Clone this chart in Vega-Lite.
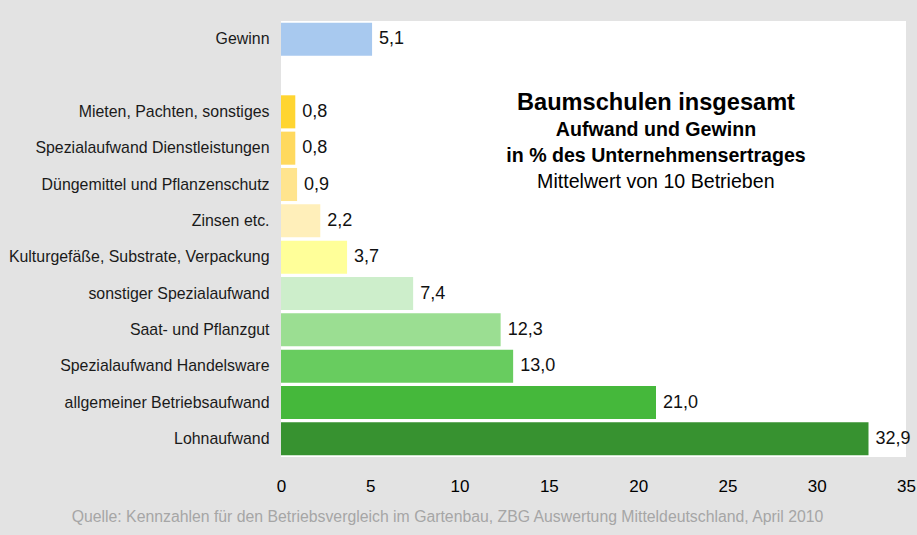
{
  "$schema": "https://vega.github.io/schema/vega-lite/v6.json",
  "width": 625,
  "height": 436,
  "autosize": {"type": "none"},
  "padding": {"left": 281, "top": 21, "right": 11, "bottom": 78},
  "background": "#e3e3e3",
  "title": {
    "text": "Baumschulen insgesamt",
    "subtitle": ["Aufwand und Gewinn", "in % des Unternehmensertrages"],
    "orient": "top",
    "anchor": "middle",
    "frame": "group",
    "dx": 62.5,
    "offset": -145,
    "font": "Liberation Sans",
    "fontSize": 23.6,
    "fontWeight": "bold",
    "color": "#000000",
    "subtitleFont": "Liberation Sans",
    "subtitleFontSize": 19.6,
    "subtitleFontWeight": "bold",
    "subtitleColor": "#000000",
    "subtitleLineHeight": 26,
    "subtitlePadding": 7
  },
  "datasets": {
    "werte": [
      {"Kategorie": "Gewinn", "Wert": 5.1},
      {"Kategorie": "Mieten, Pachten, sonstiges", "Wert": 0.8},
      {"Kategorie": "Spezialaufwand Dienstleistungen", "Wert": 0.8},
      {"Kategorie": "Düngemittel und Pflanzenschutz", "Wert": 0.9},
      {"Kategorie": "Zinsen etc.", "Wert": 2.2},
      {"Kategorie": "Kulturgefäße, Substrate, Verpackung", "Wert": 3.7},
      {"Kategorie": "sonstiger Spezialaufwand", "Wert": 7.4},
      {"Kategorie": "Saat- und Pflanzgut", "Wert": 12.3},
      {"Kategorie": "Spezialaufwand Handelsware", "Wert": 13.0},
      {"Kategorie": "allgemeiner Betriebsaufwand", "Wert": 21.0},
      {"Kategorie": "Lohnaufwand", "Wert": 32.9}
    ],
    "zeile": [{"Zeile": "Mittelwert von 10 Betrieben"}]
  },
  "layer": [
    {
      "data": {"name": "werte"},
      "mark": {"type": "bar"},
      "encoding": {
        "y": {
          "field": "Kategorie",
          "type": "nominal",
          "sort": null,
          "scale": {
            "domain": ["Gewinn", " ", "Mieten, Pachten, sonstiges", "Spezialaufwand Dienstleistungen", "Düngemittel und Pflanzenschutz", "Zinsen etc.", "Kulturgefäße, Substrate, Verpackung", "sonstiger Spezialaufwand", "Saat- und Pflanzgut", "Spezialaufwand Handelsware", "allgemeiner Betriebsaufwand", "Lohnaufwand"],
            "paddingInner": 0.09,
            "paddingOuter": 0.045
          },
          "axis": {
            "title": null,
            "domain": false,
            "ticks": false,
            "labelFont": "Liberation Sans",
            "labelFontSize": 15.9,
            "labelColor": "#1a1a1a",
            "labelPadding": 12,
            "labelLimit": 400
          }
        },
        "x": {
          "field": "Wert",
          "type": "quantitative",
          "scale": {"domain": [0, 35], "nice": false},
          "axis": {
            "values": [0, 5, 10, 15, 20, 25, 30, 35],
            "grid": false,
            "domain": false,
            "ticks": false,
            "labelFlush": false,
            "labelFont": "Liberation Sans",
            "labelFontSize": 17,
            "labelColor": "#000000",
            "labelPadding": 21,
            "title": "Quelle: Kennzahlen für den Betriebsvergleich im Gartenbau, ZBG Auswertung Mitteldeutschland, April 2010",
            "titleFont": "Liberation Sans",
            "titleFontSize": 15.8,
            "titleFontWeight": "normal",
            "titleColor": "#a6a6a6",
            "titleX": 166,
            "titleY": 59,
            "titleAlign": "center",
            "titleBaseline": "middle"
          }
        },
        "color": {
          "field": "Kategorie",
          "type": "nominal",
          "legend": null,
          "scale": {
            "domain": ["Gewinn", "Mieten, Pachten, sonstiges", "Spezialaufwand Dienstleistungen", "Düngemittel und Pflanzenschutz", "Zinsen etc.", "Kulturgefäße, Substrate, Verpackung", "sonstiger Spezialaufwand", "Saat- und Pflanzgut", "Spezialaufwand Handelsware", "allgemeiner Betriebsaufwand", "Lohnaufwand"],
            "range": ["#a8c9ef", "#ffd531", "#ffd95e", "#ffe48e", "#ffefba", "#ffff99", "#cdeecb", "#9bde92", "#68cc5f", "#45b83b", "#379230"]
          }
        }
      }
    },
    {
      "data": {"name": "werte"},
      "mark": {"type": "text", "align": "left", "baseline": "middle", "dx": 7, "font": "Liberation Sans", "fontSize": 18, "color": "#111111"},
      "encoding": {
        "y": {"field": "Kategorie", "type": "nominal", "sort": null},
        "x": {"field": "Wert", "type": "quantitative"},
        "text": {"field": "Wert", "type": "quantitative", "format": ".1f"}
      }
    },
    {
      "data": {"name": "zeile"},
      "mark": {"type": "text", "align": "center", "baseline": "middle", "dy": -3, "font": "Liberation Sans", "fontSize": 19.6, "color": "#000000"},
      "encoding": {
        "text": {"field": "Zeile", "type": "nominal"},
        "x": {"datum": 20.99, "type": "quantitative"},
        "y": {"datum": "Düngemittel und Pflanzenschutz", "type": "nominal"}
      }
    }
  ],
  "config": {
    "view": {"fill": "#ffffff", "stroke": null},
    "locale": {"number": {"decimal": ",", "thousands": ".", "grouping": [3], "currency": ["", " €"]}}
  }
}
